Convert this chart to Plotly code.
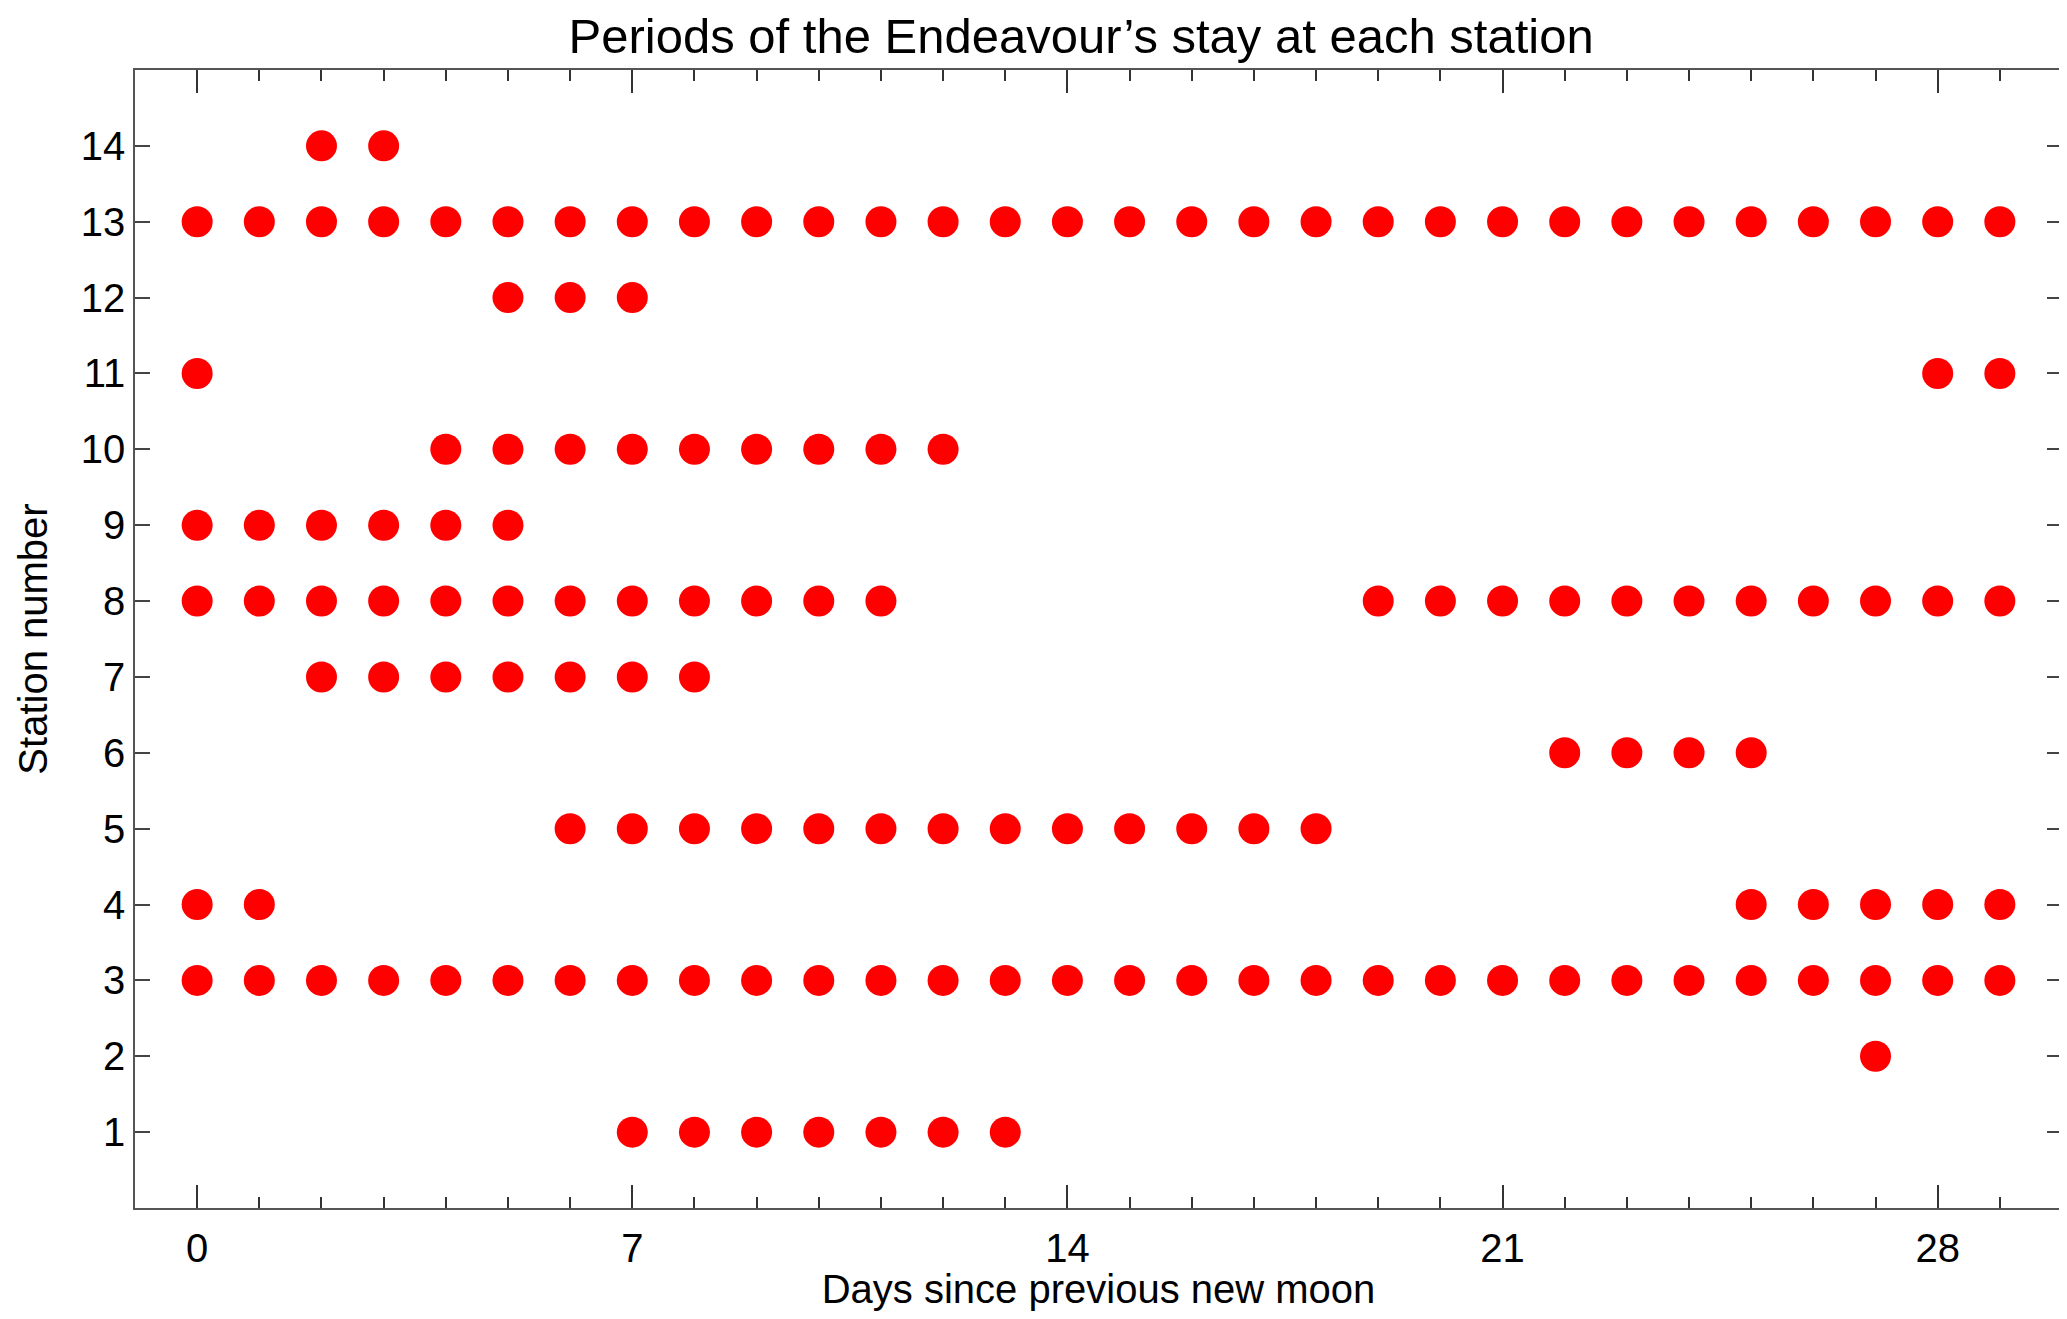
import plotly.graph_objects as go

stations = list(range(1, 15))
# days (since previous new moon) that the ship stayed at each station
days_by_station = {
    1: [7, 8, 9, 10, 11, 12, 13],
    2: [27],
    3: list(range(0, 30)),
    4: [0, 1, 25, 26, 27, 28, 29],
    5: [6, 7, 8, 9, 10, 11, 12, 13, 14, 15, 16, 17, 18],
    6: [22, 23, 24, 25],
    7: [2, 3, 4, 5, 6, 7, 8],
    8: [0, 1, 2, 3, 4, 5, 6, 7, 8, 9, 10, 11, 19, 20, 21, 22, 23, 24, 25, 26, 27, 28, 29],
    9: [0, 1, 2, 3, 4, 5],
    10: [4, 5, 6, 7, 8, 9, 10, 11, 12],
    11: [0, 28, 29],
    12: [5, 6, 7],
    13: list(range(0, 30)),
    14: [2, 3],
}
x_ticks = [0, 7, 14, 21, 28]
y_ticks = stations

xs, ys = [], []
for s in stations:
    for d in days_by_station[s]:
        xs.append(d)
        ys.append(s)

FONT = "Liberation Sans, Arial, Helvetica, sans-serif"
AX = "#555555"
W, H = 2059, 1303  # page body has an 8px margin

fig = go.Figure(go.Scatter(
    x=xs, y=ys, mode="markers",
    marker=dict(color="#ff0000", size=31, line=dict(width=0)),
    hoverinfo="x+y", showlegend=False,
))

fig.update_layout(
    width=W, height=H,
    paper_bgcolor="white", plot_bgcolor="white",
    margin=dict(l=127, r=5, t=62, b=103, autoexpand=False),
    font=dict(family=FONT, size=40, color="black"),
    title=dict(text="Periods of the Endeavour’s stay at each station",
               x=0.491, xref="paper", xanchor="center",
               y=1 - 28 / H, yanchor="middle", automargin=False,
               font=dict(family=FONT, size=49, color="black")),
)
fig.update_xaxes(
    range=[-1, 30], tickvals=x_ticks, ticktext=[str(v) for v in x_ticks],
    ticks="inside", ticklen=23, tickwidth=1.5, tickcolor="#333333",
    minor=dict(dtick=1, tick0=0, ticks="inside", ticklen=11, tickwidth=1.5, tickcolor="#333333"),
    showline=True, linecolor=AX, linewidth=1.5, mirror="ticks",
    showgrid=False, zeroline=False, automargin=False,
    tickfont=dict(size=40), ticklabelstandoff=4,
    title=dict(text="Days since previous new moon", font=dict(size=40), standoff=0),
)
fig.update_yaxes(
    range=[0, 15], tickvals=y_ticks, ticktext=[str(v) for v in y_ticks],
    ticks="inside", ticklen=15, tickwidth=1.5, tickcolor="#444444",
    showline=True, linecolor=AX, linewidth=1.5, mirror="ticks",
    showgrid=False, zeroline=False, automargin=False,
    tickfont=dict(size=40),
    title=dict(text="Station number", font=dict(size=40), standoff=21),
)

fig.write_html("out.html")
